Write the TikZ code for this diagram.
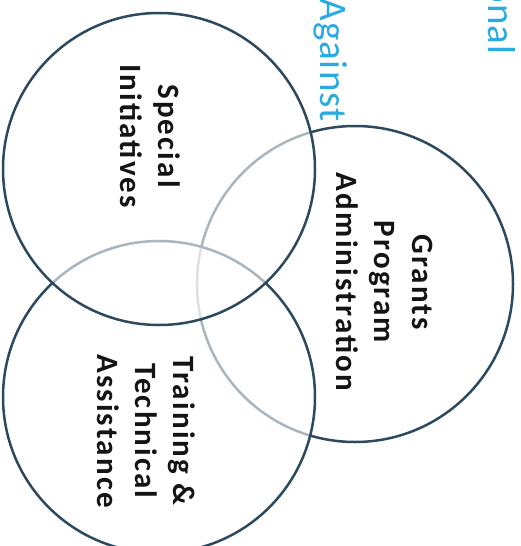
\documentclass[tikz,border=0pt]{standalone}
\usepackage{fontspec}
\setmainfont{Carlito}
\newfontfamily\areafont{Carlito}[LetterSpace=7]
\newfontfamily\tagfont{Carlito}[LetterSpace=3]
\usetikzlibrary{positioning}
\definecolor{ringcolor}{RGB}{44,73,94}
\definecolor{tagblue}{RGB}{41,171,226}
\tikzset{
  ring/.style = {draw=ringcolor, line width=2.5pt, fill=white, fill opacity=0.6},
  area/.style = {rotate=-90, align=center, inner sep=0pt, text=black!92,
                 font={\areafont\bfseries\fontsize{31}{38}\selectfont}},
  tag/.style  = {rotate=-90, inner sep=0pt, text=tagblue,
                 font={\tagfont\fontsize{39}{44}\selectfont}},
}
\begin{document}
\begin{tikzpicture}[x=1pt, y=-1pt]
  \useasboundingbox (0,0) rectangle (520,546);
  \clip (0,0) rectangle (520,546);
  % text from the page behind
  \node[tag, anchor=base east] (against) at (320,122) {Against};
  \node[tag, anchor=base east] (onal) at (488,55) {onal};
  % the three circles, last one on top
  \coordinate (cgrants) at (355,284);
  \coordinate (ctraining) at (159,397);
  \coordinate (cspecial) at (159,169);
  \draw[ring] (cgrants) circle[radius=158pt];
  \draw[ring] (ctraining) circle[radius=156pt];
  \draw[ring] (cspecial) circle[radius=156pt];
  % labels
  \node[area] (special) at (150,136) {Special\\Initiatives};
  \node[area] (grants) at (385,282) {Grants\\Program\\Administration};
  \node[area] (training) at (146,431) {Training \&\\Technical\\Assistance};
\end{tikzpicture}
\end{document}
